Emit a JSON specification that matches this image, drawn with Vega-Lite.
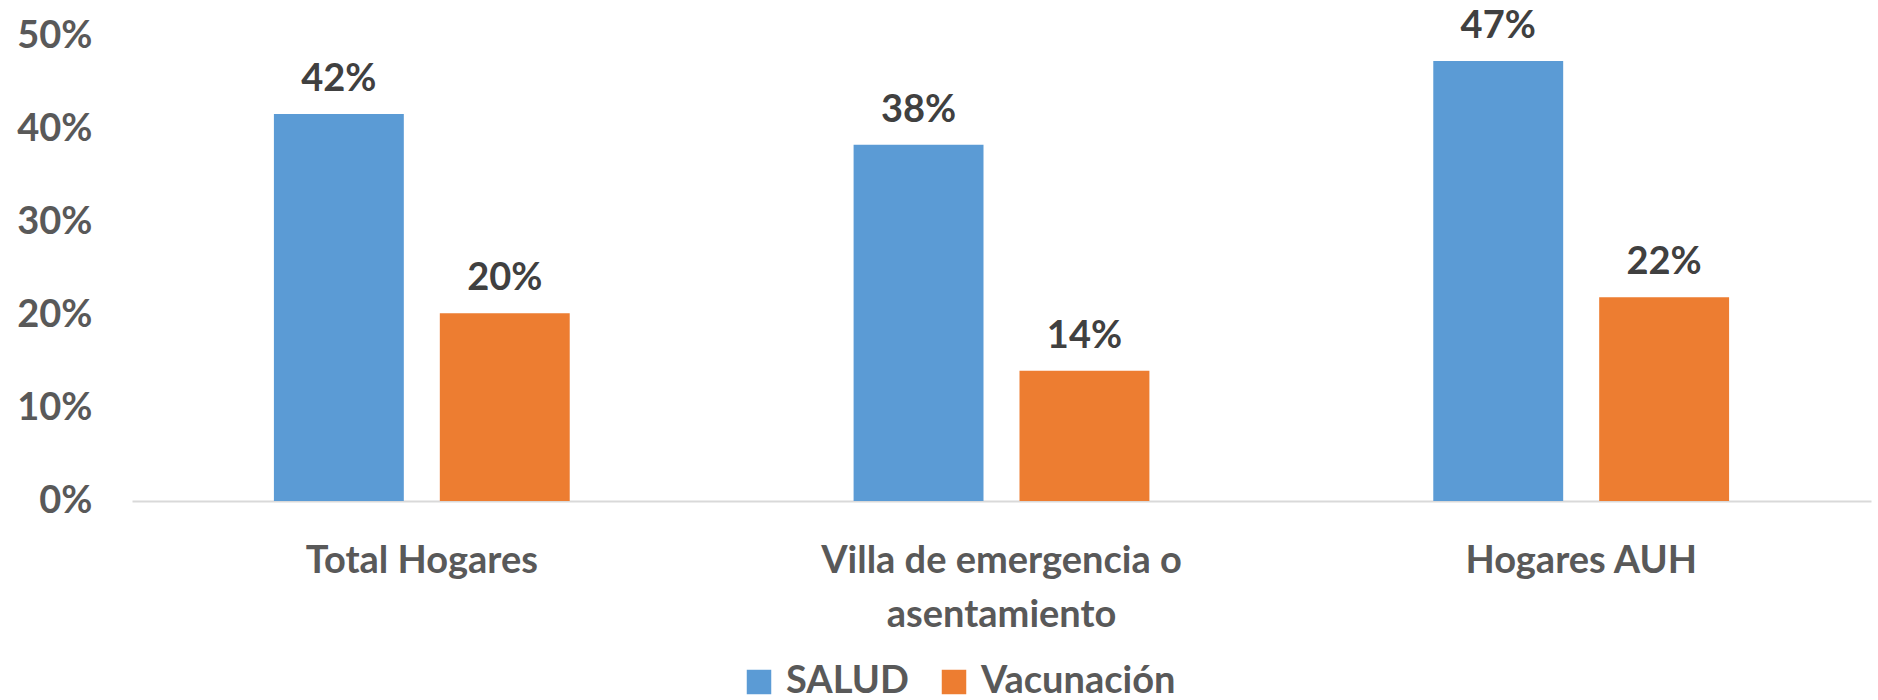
{
  "$schema": "https://vega.github.io/schema/vega-lite/v6.json",
  "width": 1739,
  "height": 465,
  "autosize": {"type": "none"},
  "padding": {"left": 132, "top": 36, "right": 7, "bottom": 199},
  "background": "white",
  "config": {
    "view": {"stroke": null},
    "font": "Lato"
  },
  "data": {
    "values": [
      {"categoria": "Total Hogares", "serie": "SALUD", "valor": 0.416},
      {"categoria": "Total Hogares", "serie": "Vacunación", "valor": 0.202},
      {"categoria": "Villa de emergencia o asentamiento", "serie": "SALUD", "valor": 0.383},
      {"categoria": "Villa de emergencia o asentamiento", "serie": "Vacunación", "valor": 0.140},
      {"categoria": "Hogares AUH", "serie": "SALUD", "valor": 0.473},
      {"categoria": "Hogares AUH", "serie": "Vacunación", "valor": 0.219}
    ]
  },
  "encoding": {
    "x": {
      "field": "categoria",
      "type": "nominal",
      "sort": null,
      "scale": {"paddingInner": 0.4897, "paddingOuter": 0.2448},
      "axis": {
        "title": null,
        "labelAngle": 0,
        "labelFont": "Lato",
        "labelFontWeight": "bold",
        "labelFontSize": 38,
        "labelColor": "#595959",
        "labelPadding": 41,
        "labelLineHeight": 54,
        "labelLimit": 0,
        "labelExpr": "datum.label == 'Villa de emergencia o asentamiento' ? ['Villa de emergencia o', 'asentamiento'] : datum.label",
        "ticks": false,
        "domainColor": "#D9D9D9",
        "domainWidth": 2,
        "grid": false
      }
    },
    "xOffset": {
      "field": "serie",
      "type": "nominal",
      "scale": {"paddingInner": 0.217, "paddingOuter": 0}
    },
    "y": {
      "field": "valor",
      "type": "quantitative",
      "scale": {"domain": [0, 0.5], "nice": false},
      "axis": {
        "title": null,
        "format": ".0%",
        "values": [0, 0.1, 0.2, 0.3, 0.4, 0.5],
        "labelFont": "Lato",
        "labelFontWeight": "bold",
        "labelFontSize": 38,
        "labelColor": "#595959",
        "labelPadding": 40,
        "ticks": false,
        "domain": false,
        "grid": false
      }
    }
  },
  "layer": [
    {
      "mark": {"type": "bar"},
      "encoding": {
        "color": {
          "field": "serie",
          "type": "nominal",
          "scale": {"domain": ["SALUD", "Vacunación"], "range": ["#5B9BD5", "#ED7D31"]},
          "legend": {
            "title": null,
            "orient": "none",
            "direction": "horizontal",
            "legendX": 608,
            "legendY": 627,
            "symbolType": "square",
            "symbolSize": 600,
            "symbolStrokeWidth": 0,
            "labelFont": "Lato",
            "labelFontWeight": "bold",
            "labelFontSize": 38,
            "labelColor": "#595959",
            "labelOffset": 8,
            "labelLimit": 0,
            "columnPadding": 26
          }
        }
      }
    },
    {
      "mark": {
        "type": "text",
        "baseline": "alphabetic",
        "dy": -23,
        "font": "Lato",
        "fontWeight": "bold",
        "fontSize": 38,
        "color": "#404040"
      },
      "encoding": {
        "text": {"field": "valor", "type": "quantitative", "format": ".0%"}
      }
    }
  ]
}
